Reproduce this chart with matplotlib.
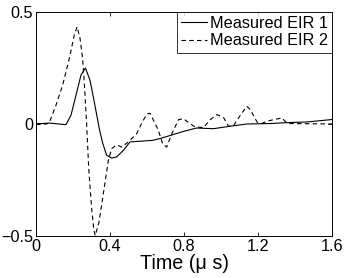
import numpy as np
import matplotlib
matplotlib.use("Agg")
import matplotlib.pyplot as plt

# --- Data ---
t1 = [0.0, 0.072, 0.162, 0.189, 0.216, 0.243, 0.267, 0.292, 0.315, 0.342, 0.36,
      0.382, 0.409, 0.436, 0.472, 0.508, 0.562, 0.630, 0.670, 0.742, 0.797,
      0.868, 0.959, 1.049, 1.139, 1.265, 1.355, 1.463, 1.6]
eir1 = [0.0, 0.004, -0.003, 0.039, 0.128, 0.218, 0.25, 0.195, 0.098, -0.021, -0.085,
        -0.140, -0.152, -0.147, -0.118, -0.080, -0.077, -0.073, -0.065, -0.047, -0.033,
        -0.018, -0.021, -0.010, 0.0, 0.002, 0.006, 0.009, 0.02]

t2 = [0.0, 0.058, 0.072, 0.108, 0.144, 0.18, 0.207, 0.222, 0.238, 0.252, 0.262,
      0.274, 0.285, 0.300, 0.312, 0.320, 0.34, 0.364, 0.391, 0.409, 0.436,
      0.463, 0.499, 0.544, 0.575, 0.6, 0.616, 0.661, 0.685, 0.706, 0.734,
      0.77, 0.796, 0.833, 0.859, 0.905, 0.941, 0.977, 1.014, 1.04, 1.068,
      1.104, 1.139, 1.158, 1.194, 1.22, 1.248, 1.284, 1.328, 1.356, 1.373, 1.6]
eir2 = [0.0, 0.0, 0.006, 0.084, 0.173, 0.292, 0.397, 0.434, 0.382, 0.292, 0.17,
        -0.006, -0.20, -0.37, -0.47, -0.498, -0.44, -0.311, -0.162, -0.11, -0.093,
        -0.103, -0.080, -0.043, 0.010, 0.045, 0.048, -0.028, -0.09, -0.103, -0.043,
        0.019, 0.024, 0.001, -0.013, -0.016, 0.019, 0.042, 0.028, -0.010, -0.006,
        0.039, 0.079, 0.064, 0.009, 0.002, 0.013, 0.019, 0.027, 0.004, 0.002, 0.0]

xticks = [0, 0.4, 0.8, 1.2, 1.6]
xticklabels = ["0", "0.4", "0.8", "1.2", "1.6"]
yticks = [-0.5, 0, 0.5]
yticklabels = ["\u22120.5", "0", "0.5"]

plt.rcParams['font.family'] = ['Liberation Sans', 'DejaVu Sans']

fig = plt.figure(figsize=(3.46, 2.78), dpi=100)
ax = fig.add_axes([0.104, 0.151, 0.856, 0.806])

ax.plot(t1, eir1, color='black', linewidth=0.8, label='Measured EIR 1')
ax.plot(t2, eir2, color='black', linewidth=0.8, linestyle=(0, (4, 3)),
        label='Measured EIR 2')

ax.set_xlim(0, 1.6)
ax.set_ylim(-0.5, 0.5)
ax.set_xticks(xticks)
ax.set_xticklabels(xticklabels)
ax.set_yticks(yticks)
ax.set_yticklabels(yticklabels)
ax.tick_params(direction='in', length=3, width=0.6, top=True, right=True,
               labelsize=11.7, pad=2)
for s in ax.spines.values():
    s.set_linewidth(0.7)

ax.set_xlabel("Time (\u03bc s)", fontsize=14.2, labelpad=0)

leg = ax.legend(loc='upper right', fontsize=11.7, frameon=True, fancybox=False,
                borderaxespad=0, handlelength=1.6, handletextpad=0.2,
                borderpad=0.25, labelspacing=0.15)
leg.get_frame().set_edgecolor('black')
leg.get_frame().set_linewidth(0.7)

fig.savefig("out.png", dpi=100)
